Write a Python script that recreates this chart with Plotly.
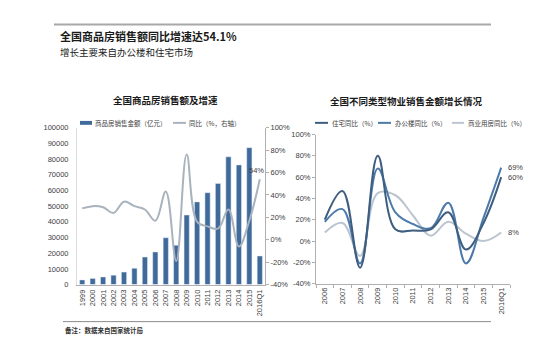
import plotly.graph_objects as go

W, H = 548, 350

# ---------------- data ----------------
years_left = ["1999", "2000", "2001", "2002", "2003", "2004", "2005", "2006", "2007",
              "2008", "2009", "2010", "2011", "2012", "2013", "2014", "2015", "2016Q1"]
sales_amount = [2988, 3935, 4863, 6032, 7956, 10376, 17576, 20826, 29889,
                25068, 44355, 52721, 58589, 64456, 81428, 76292, 87281, 18248]
sales_yoy = [28, 30, 29, 24, 34, 30, 27, 17, 43, -19, 76, 16, 12, 10, 27, -6, 17, 54]

years_right = ["2006", "2007", "2008", "2009", "2010", "2011", "2012", "2013",
               "2014", "2015", "2016Q1"]
residential_yoy = [20, 47, -25, 80, 11, 10, 11, 27, -8, 17, 60]
office_yoy = [18, 30, -21, 68, 27, 16, 12, 36, -21, 22, 69]
commercial_yoy = [8, 17, -14, 45, 43, 24, 5, 18, 7, 0, 8]

left_ticks = [0, 10000, 20000, 30000, 40000, 50000, 60000, 70000, 80000, 90000, 100000]
pct_ticks = [-40, -20, 0, 20, 40, 60, 80, 100]

# ---------------- style ----------------
FONT = "Liberation Sans, Noto Sans CJK SC, sans-serif"
CJK = "Noto Sans CJK SC, Liberation Sans, sans-serif"
BAR_C = "#3f6a9a"
YOY_C = "#a9b3be"
RES_C = "#3f5d7f"
OFF_C = "#4c7bab"
COM_C = "#bcc5cf"
TICK_C = "#404040"
AX_C = "#b0b0b0"


def px(x):
    return x / W


def py(y):
    return 1 - y / H


fig = go.Figure()

fig.add_trace(go.Bar(x=years_left, y=sales_amount, marker_color=BAR_C,
                     xaxis="x", yaxis="y", showlegend=False))
fig.add_trace(go.Scatter(x=years_left, y=sales_yoy, mode="lines",
                         line=dict(color=YOY_C, width=2, shape="spline", smoothing=1.1),
                         xaxis="x", yaxis="y2", showlegend=False))

for vals, col in [(commercial_yoy, COM_C), (office_yoy, OFF_C), (residential_yoy, RES_C)]:
    fig.add_trace(go.Scatter(x=years_right, y=vals, mode="lines",
                             line=dict(color=col, width=2, shape="spline", smoothing=1.1),
                             xaxis="x2", yaxis="y3", showlegend=False))

tickfont = dict(family=FONT, size=7.5, color=TICK_C)
pct_text = [f"{v}%" for v in pct_ticks]
left_text = [str(v) for v in left_ticks]

fig.update_layout(
    width=W, height=H,
    margin=dict(l=0, r=0, t=0, b=0),
    paper_bgcolor="white", plot_bgcolor="rgba(0,0,0,0)",
    font=dict(family=FONT, color=TICK_C),
    bargap=0.5,
    xaxis=dict(domain=[px(77), px(265)], anchor="y", type="category",
               range=[-0.5, 17.5], tickangle=-90, tickfont=tickfont,
               showline=True, linecolor=AX_C, linewidth=1, ticks="",
               showgrid=False, ticklabelstandoff=1),
    yaxis=dict(domain=[py(288), py(127)], anchor="x", range=[0, 100000],
               tickvals=left_ticks, ticktext=left_text, tickfont=tickfont,
               showgrid=False, showline=True, linecolor="#dcdcdc", linewidth=1,
               zeroline=False, ticks="", ticklabelstandoff=6),
    yaxis2=dict(overlaying="y", side="right", anchor="x", range=[-40, 100],
                tickvals=pct_ticks, ticktext=pct_text, tickfont=tickfont,
                showgrid=False, zeroline=False, showline=True, linecolor=AX_C,
                linewidth=1, ticks="outside", ticklen=3, tickcolor=AX_C),
    xaxis2=dict(domain=[px(316), px(510)], anchor="y3", type="category",
                range=[-0.5, 10.5], tickangle=-90, tickfont=tickfont,
                showline=True, linecolor=AX_C, linewidth=1, ticks="outside",
                ticklen=3, tickcolor=AX_C, tickson="boundaries", showgrid=False,
                ticklabelstandoff=0),
    yaxis3=dict(domain=[py(287), py(134)], anchor="x2", range=[-40, 100],
                tickvals=pct_ticks, ticktext=pct_text, tickfont=tickfont,
                showgrid=False, zeroline=False, showline=True, linecolor=AX_C,
                linewidth=1, ticks="outside", ticklen=3, tickcolor=AX_C),
)

shapes = []
ann = []


def text(x, y, s, size, bold=False, color="#1a1a1a", xanchor="left", family=CJK):
    ann.append(dict(x=px(x), y=py(y), xref="paper", yref="paper", text=s,
                    showarrow=False, xanchor=xanchor, yanchor="middle",
                    font=dict(family=family, size=size, color=color,
                              weight="bold" if bold else "normal")))


# header
shapes.append(dict(type="line", xref="paper", yref="paper", x0=px(54), x1=px(491),
                   y0=py(21), y1=py(21), line=dict(color="#a8a8a8", width=2)))
text(58, 33, "全国商品房销售额同比增速达54.1%", 11, bold=True)
text(58, 49, "增长主要来自办公楼和住宅市场", 9.5, color="#222222")

# chart titles
text(165, 99, "全国商品房销售额及增速", 9.5, bold=True, xanchor="center")
text(406, 100, "全国不同类型物业销售金额增长情况", 9.5, bold=True, xanchor="center")

# left legend
shapes.append(dict(type="rect", xref="paper", yref="paper", x0=px(80), x1=px(92),
                   y0=py(124), y1=py(120), fillcolor=BAR_C, line=dict(width=0)))
text(93, 122, "商品房销售金额（亿元）", 6.5, color=TICK_C)
shapes.append(dict(type="line", xref="paper", yref="paper", x0=px(173), x1=px(186),
                   y0=py(122), y1=py(122), line=dict(color=YOY_C, width=2)))
text(187, 122, "同比（%，右轴）", 6.5, color=TICK_C)

# right legend
for x0, x1, col, lab, tx in [(315, 328, RES_C, "住宅同比（%）", 330),
                             (378, 391, OFF_C, "办公楼同比（%）", 393),
                             (452, 464, COM_C, "商业用房同比（%）", 466)]:
    shapes.append(dict(type="line", xref="paper", yref="paper", x0=px(x0), x1=px(x1),
                       y0=py(122), y1=py(122), line=dict(color=col, width=2)))
    text(tx, 122, lab, 6.5, color=TICK_C)

# data labels
ann.append(dict(x=years_left[-1], y=sales_yoy[-1], xref="x", yref="y2",
                text=f"{sales_yoy[-1]}%", showarrow=False, xanchor="right",
                yanchor="bottom", xshift=6, yshift=2,
                font=dict(family=FONT, size=7.5, color=TICK_C)))
for vals in (office_yoy, residential_yoy, commercial_yoy):
    ann.append(dict(x=years_right[-1], y=vals[-1], xref="x2", yref="y3",
                    text=f"{vals[-1]}%", showarrow=False, xanchor="left",
                    yanchor="middle", xshift=5,
                    font=dict(family=FONT, size=7.5, color=TICK_C)))

# footer
shapes.append(dict(type="line", xref="paper", yref="paper", x0=px(63), x1=px(491),
                   y0=py(326), y1=py(326), line=dict(color="#8c8c8c", width=1)))
text(63, 335, "备注：数据来自国家统计局", 6.5, bold=True, color="#333333")

fig.update_layout(shapes=shapes, annotations=ann)
fig.write_html("out.html")
